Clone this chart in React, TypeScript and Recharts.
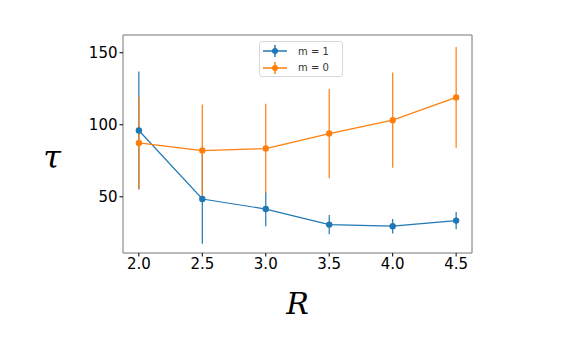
import React from 'react';
import { LineChart, Line, XAxis, YAxis, ErrorBar, ReferenceArea } from 'recharts';

const rValues = [2.0, 2.5, 3.0, 3.5, 4.0, 4.5];
const m1Values = [96, 48.5, 41.5, 30.7, 29.6, 33.5];
const m1Errors = [41, 31, 12, 6.7, 5, 6];
const m0Values = [87.4, 82.1, 83.5, 93.9, 103.2, 119];
const m0Errors = [32, 32, 31, 31, 33, 35];
const xTicks = [2.0, 2.5, 3.0, 3.5, 4.0, 4.5];
const yTicks = [50, 100, 150];
const seriesNames = ['m = 1', 'm = 0'];

const data = rValues.map((r, i) => ({
  r,
  m1: m1Values[i],
  m1Err: m1Errors[i],
  m0: m0Values[i],
  m0Err: m0Errors[i],
}));

const BLUE = '#1f77b4';
const ORANGE = '#ff7f0e';
const X_DOMAIN: [number, number] = [1.875, 4.625];
const Y_DOMAIN: [number, number] = [11, 162.3];

const tickStyle = { fontSize: 15, fill: '#000', fontFamily: 'DejaVu Sans' };

const LegendBox = () => {
  const items = [
    { name: seriesNames[0], color: BLUE },
    { name: seriesNames[1], color: ORANGE },
  ];
  return (
    <div
      style={{
        position: 'absolute',
        left: 259,
        top: 41,
        width: 84,
        height: 36,
        border: '1px solid #d8d8d8',
        borderRadius: 3,
        background: '#fff',
        padding: '1px 0 1px 2px',
        fontFamily: 'DejaVu Sans',
        fontSize: 10,
        boxSizing: 'border-box',
        whiteSpace: 'nowrap',
      }}
    >
      {items.map((it) => (
        <div key={it.name} style={{ display: 'flex', alignItems: 'center', height: 16.5 }}>
          <svg width={26} height={16} style={{ display: 'block' }}>
            <line x1={1} x2={25} y1={8} y2={8} stroke={it.color} strokeWidth={1.5} />
            <line x1={13} x2={13} y1={2} y2={14} stroke={it.color} strokeWidth={1.5} />
            <circle cx={13} cy={8} r={3} fill={it.color} />
          </svg>
          <span style={{ marginLeft: 10, color: '#333' }}>{it.name}</span>
        </div>
      ))}
    </div>
  );
};

export default function App() {
  return (
    <div style={{ position: 'absolute', left: 0, top: 0, width: 582, height: 356, background: '#fff' }}>
      <LineChart
        width={582}
        height={356}
        data={data}
        margin={{ top: 35, right: 110, bottom: 73, left: 0 }}
      >
        <XAxis
          dataKey="r"
          type="number"
          domain={X_DOMAIN}
          ticks={xTicks}
          tickFormatter={(v: number) => v.toFixed(1)}
          allowDataOverflow
          height={30}
          axisLine={false}
          tickLine={{ stroke: '#000', strokeWidth: 1 }}
          tickSize={3.5}
          tick={tickStyle}
          label={{
            content: (props: any) => {
              const vb = props.viewBox || {};
              return (
                <text
                  x={vb.x + vb.width / 2}
                  y={314}
                  textAnchor="middle"
                  fontFamily="DejaVu Serif"
                  fontStyle="italic"
                  fontSize={30}
                  fill="#000"
                >
                  R
                </text>
              );
            },
          }}
        />
        <YAxis
          type="number"
          domain={Y_DOMAIN}
          ticks={yTicks}
          allowDataOverflow
          width={123}
          axisLine={false}
          tickLine={{ stroke: '#000', strokeWidth: 1 }}
          tickSize={3.5}
          tick={tickStyle}
          label={{
            content: () => (
              <text
                x={52}
                y={168}
                textAnchor="middle"
                fontFamily="DejaVu Serif"
                fontStyle="italic"
                fontSize={32}
                fill="#000"
              >
                τ
              </text>
            ),
          }}
        />
        <ReferenceArea
          x1={X_DOMAIN[0]}
          x2={X_DOMAIN[1]}
          y1={Y_DOMAIN[0]}
          y2={Y_DOMAIN[1]}
          fill="none"
          stroke="#777"
          strokeWidth={1}
          ifOverflow="visible"
        />
        <Line
          dataKey="m1"
          name={seriesNames[0]}
          stroke={BLUE}
          strokeWidth={1.2}
          dot={{ r: 3.2, fill: BLUE, stroke: BLUE, strokeWidth: 0 }}
          isAnimationActive={false}
        >
          <ErrorBar dataKey="m1Err" direction="y" width={0} stroke={BLUE} strokeWidth={1.2} />
        </Line>
        <Line
          dataKey="m0"
          name={seriesNames[1]}
          stroke={ORANGE}
          strokeWidth={1.2}
          dot={{ r: 3.2, fill: ORANGE, stroke: ORANGE, strokeWidth: 0 }}
          isAnimationActive={false}
        >
          <ErrorBar dataKey="m0Err" direction="y" width={0} stroke={ORANGE} strokeWidth={1.2} />
        </Line>
      </LineChart>
      <LegendBox />
    </div>
  );
}
